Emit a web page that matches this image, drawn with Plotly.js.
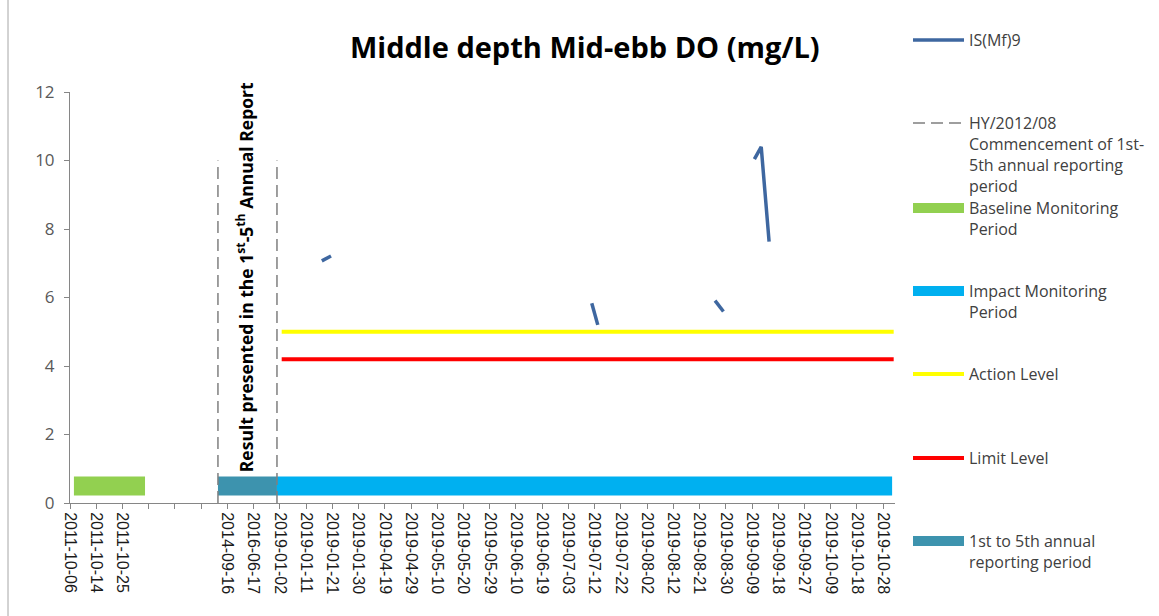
<!DOCTYPE html>
<html>
<head>
<meta charset="utf-8">
<script src="https://cdn.plot.ly/plotly-3.0.1.min.js"></script>
<style>html,body{margin:0;padding:0;background:#fff;}#chart{width:1159px;height:616px;}</style>
</head>
<body>
<div id="chart"></div>
<script>
// Category axis labels (blank slots kept as empty labels)
const categories = ['2011-10-06','2011-10-14','2011-10-25','','','','2014-09-16','2016-06-17',
  '2019-01-02','2019-01-11','2019-01-21','2019-01-30','2019-04-19','2019-04-29','2019-05-10',
  '2019-05-20','2019-05-29','2019-06-10','2019-06-19','2019-07-03','2019-07-12','2019-07-22',
  '2019-08-02','2019-08-12','2019-08-21','2019-08-30','2019-09-09','2019-09-18','2019-09-27',
  '2019-10-09','2019-10-18','2019-10-28'];

// IS(Mf)9 series: positions on the category scale and DO values (mg/L)
const isX = [9.6, 9.95, null, 19.89, 20.12, null, 24.59, 24.91, null, 26.09, 26.35, 26.65];
const isY = [7.07, 7.21, null, 5.83, 5.2, null, 5.91, 5.59, null, 10.04, 10.40, 7.63];

// HY/2012/08 commencement markers (dashed verticals)
const hyX = [5.64, 5.64, null, 7.89, 7.89];
const hyY = [0, 10, null, 0, 10];

// Period bands
const baselineX = [0.15, 2.86];
const baselineY = [0.5, 0.5];
const reportingX = [5.64, 7.89];
const reportingY = [0.5, 0.5];
const impactX = [7.89, 31.34];
const impactY = [0.5, 0.5];

// Levels
const levelX = [8.07, 31.4];
const actionLevel = [5.0, 5.0];
const limitLevel = [4.2, 4.2];

const tickVals = [], tickText = [];
categories.forEach((c, i) => { if (c) { tickVals.push(i); tickText.push(c); } });

const legendFont = {family: 'Open Sans', size: 16, color: '#404040'};
function leg(pxCenter) {
  return {
    xref: 'container', yref: 'container',
    x: 908 / 1159, xanchor: 'left',
    y: 1 - (pxCenter - 17) / 616, yanchor: 'top',
    bgcolor: 'rgba(0,0,0,0)', borderwidth: 0,
    font: legendFont, valign: 'top', itemwidth: 51
  };
}

const traces = [
  {x: baselineX, y: baselineY, mode: 'lines', name: 'Baseline Monitoring<br>Period',
   line: {color: '#92d050', width: 19}, legend: 'legend3', hoverinfo: 'skip'},
  {x: reportingX, y: reportingY, mode: 'lines', name: '1st to 5th annual<br>reporting period',
   line: {color: '#3d93ae', width: 19}, legend: 'legend7', hoverinfo: 'skip'},
  {x: impactX, y: impactY, mode: 'lines', name: 'Impact Monitoring<br>Period',
   line: {color: '#00b0f0', width: 19}, legend: 'legend4', hoverinfo: 'skip'},
  {x: levelX, y: actionLevel, mode: 'lines', name: 'Action Level',
   line: {color: '#ffff00', width: 4}, legend: 'legend5'},
  {x: levelX, y: limitLevel, mode: 'lines', name: 'Limit Level',
   line: {color: '#ff0000', width: 4}, legend: 'legend6'},
  {x: hyX, y: hyY, mode: 'lines', name: 'HY/2012/08<br>Commencement of 1st-<br>5th annual reporting<br>period',
   line: {color: '#7f7f7f', width: 1.5, dash: '12px,6px'}, legend: 'legend2', connectgaps: false},
  {x: isX, y: isY, mode: 'lines', name: 'IS(Mf)9',
   line: {color: '#3e67a0', width: 3.5}, legend: 'legend', connectgaps: false}
];

const layout = {
  width: 1159, height: 616,
  margin: {l: 70, r: 264, t: 92, b: 113},
  paper_bgcolor: '#ffffff', plot_bgcolor: '#ffffff',
  title: {text: '<b>Middle depth Mid-ebb DO (mg/L)</b>',
    font: {family: 'Open Sans', size: 29, color: '#000000'},
    xref: 'paper', x: 0.624, xanchor: 'center', yref: 'container', y: 1 - 48/616, yanchor: 'middle'},
  showlegend: true,
  legend: leg(40), legend2: leg(123), legend3: leg(208), legend4: leg(291),
  legend5: leg(374), legend6: leg(458), legend7: leg(541),
  xaxis: {range: [0, 31.45], tickmode: 'array', tickvals: tickVals, ticktext: tickText,
    tickangle: 90, showline: true, linecolor: '#868686', linewidth: 1,
    ticks: 'outside', ticklen: 5, tickcolor: '#868686', showgrid: false, zeroline: false,
    minor: {ticks: 'outside', ticklen: 5, tickcolor: '#868686', dtick: 1, tick0: 0, showgrid: false},
    tickfont: {family: 'Liberation Sans', size: 16, color: '#1a1a1a'}},
  yaxis: {range: [0, 12], dtick: 2, tick0: 0, showline: true, linecolor: '#868686', linewidth: 1,
    ticks: 'outside', ticklen: 5, tickcolor: '#868686', showgrid: false, zeroline: false,
    ticklabelstandoff: 6,
    tickfont: {family: 'Open Sans', size: 17, color: '#595959'}},
  annotations: [{
    x: 6.68, y: 6.6, xref: 'x', yref: 'y', textangle: -90, showarrow: false,
    text: '<b>Result presented in the 1<sup>st</sup>-5<sup>th</sup> Annual Report</b>',
    font: {family: 'Open Sans', size: 17.5, color: '#000000'}
  }],
  shapes: [{type: 'line', xref: 'paper', yref: 'paper', x0: -62/825, x1: -62/825,
    y0: -113/411, y1: 503/411, line: {color: '#a6a6a6', width: 1}}]
};

Plotly.newPlot('chart', traces, layout, {displayModeBar: false, staticPlot: true});
</script>
</body>
</html>
